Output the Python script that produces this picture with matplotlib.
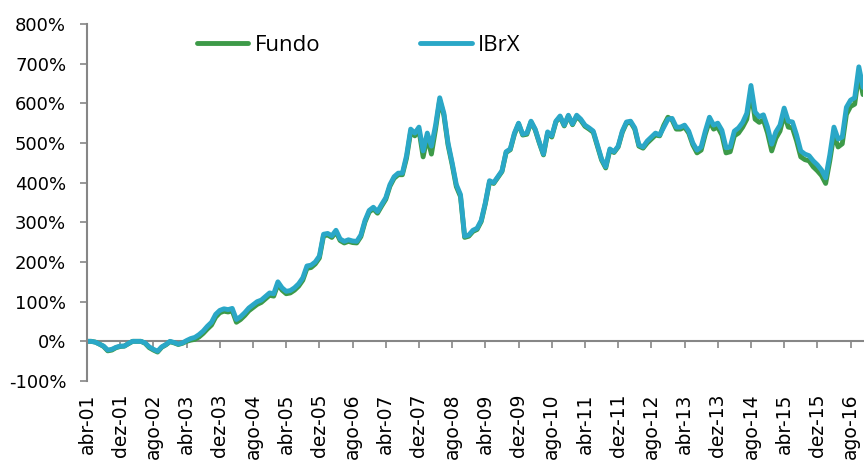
import matplotlib
matplotlib.use('Agg')
import matplotlib.pyplot as plt
import numpy as np
from matplotlib.ticker import FuncFormatter

plt.rcParams['font.family'] = 'DejaVu Sans'

# monthly accumulated return (%), abr-01 .. nov-16
ibrx = [0, 0, -2, -7, -12, -22, -20, -15, -12, -12,
        -5, 0, 0, 0, -4, -14, -20, -25, -14, -8,
        0, -3, -7, -4, 2, 7, 10, 17, 26, 38,
        48, 68, 78, 82, 80, 83, 55, 62, 72, 84,
        92, 100, 104, 113, 122, 120, 150, 135, 126, 128,
        135, 145, 160, 190, 192, 200, 215, 270, 272, 266,
        280, 258, 252, 256, 253, 252, 268, 305, 330, 338,
        327, 345, 362, 395, 415, 424, 424, 468, 535, 525,
        540, 480, 525, 492, 545, 614, 575, 500, 450, 395,
        370, 265, 268, 280, 285, 305, 350, 405, 400, 415,
        430, 478, 485, 525, 550, 522, 525, 555, 535, 502,
        472, 528, 518, 555, 568, 545, 570, 548, 570, 560,
        545, 538, 530, 495, 460, 440, 485, 478, 492, 530,
        553, 555, 538, 495, 490, 505, 515, 525, 520, 540,
        560, 562, 540, 540, 545, 530, 500, 482, 490, 530,
        565, 545, 550, 532, 488, 490, 530, 538, 552, 575,
        645, 578, 566, 571, 540, 497, 528, 545, 588, 555,
        553, 520, 480, 472, 468, 455, 445, 432, 412, 470,
        540, 510, 515, 590, 608, 614, 692, 640]

fundo = [0, 0, -2, -7, -13, -24, -22, -16, -13, -12,
         -6, 0, 0, 0, -5, -16, -22, -27, -15, -9,
         -1, -4, -8, -5, 0, 3, 5, 11, 20, 31,
         41, 61, 72, 76, 74, 77, 48, 55, 65, 77,
         85, 93, 98, 107, 116, 114, 144, 129, 120, 122,
         129, 139, 154, 184, 186, 195, 210, 266, 268, 262,
         276, 254, 248, 252, 249, 248, 264, 301, 326, 334,
         323, 341, 358, 391, 411, 420, 420, 462, 528, 518,
         532, 465, 515, 472, 535, 608, 570, 495, 445, 390,
         365, 262, 265, 277, 282, 302, 347, 402, 398, 413,
         428, 476, 483, 522, 548, 520, 522, 553, 533, 500,
         470, 525, 515, 553, 566, 543, 568, 546, 567, 557,
         542, 535, 527, 492, 457, 437, 482, 476, 490, 527,
         550, 552, 535, 492, 487, 500, 510, 520, 518, 545,
         565, 558, 535, 535, 540, 525, 495, 475, 482, 522,
         555, 535, 540, 520, 475, 478, 518, 525, 540, 560,
         630, 560, 552, 558, 525, 480, 512, 530, 572, 540,
         538, 505, 465, 458, 455, 440, 430, 418, 398, 455,
         522, 490, 498, 572, 592, 598, 674, 622]

tick_pos = list(range(0, 188, 8))
tick_labels = ['abr-01', 'dez-01', 'ago-02', 'abr-03', 'dez-03', 'ago-04',
               'abr-05', 'dez-05', 'ago-06', 'abr-07', 'dez-07', 'ago-08',
               'abr-09', 'dez-09', 'ago-10', 'abr-11', 'dez-11', 'ago-12',
               'abr-13', 'dez-13', 'ago-14', 'abr-15', 'dez-15', 'ago-16']

x = np.arange(len(ibrx))

fig = plt.figure(figsize=(8.64, 4.61), dpi=100)
ax = fig.add_axes([87 / 864, 1 - 381 / 461, 776 / 864, 357 / 461])

ax.plot(x, fundo, color='#3d9a48', lw=3.5, solid_capstyle='round', label='Fundo')
ax.plot(x, ibrx, color='#2aa7c7', lw=3.5, solid_capstyle='round', label='IBrX')

ax.set_ylim(-100, 800)
ax.set_xlim(0, len(ibrx) - 1)
ax.set_yticks(range(-100, 801, 100))
ax.yaxis.set_major_formatter(FuncFormatter(lambda v, p: f'{int(v)}%'))

for s in ['top', 'right', 'bottom']:
    ax.spines[s].set_visible(False)
ax.spines['left'].set_color('#868686')
ax.spines['left'].set_linewidth(1.5)
ax.tick_params(axis='y', direction='out', length=5, width=1.2, color='#868686',
               labelsize=13, pad=10)

ax.set_xticks(tick_pos)
ax.set_xticklabels(tick_labels, rotation=90, va='top', ha='center')
ax.tick_params(axis='x', length=0, labelsize=13.5, pad=9)

# horizontal axis line crossing at 0%
sec = ax.secondary_xaxis(1 / 9)
sec.set_xticks(tick_pos)
sec.set_xticklabels([])
sec.spines['bottom'].set_color('#868686')
sec.spines['bottom'].set_linewidth(1.5)
sec.tick_params(axis='x', direction='out', length=5, width=1.2, color='#868686')

ax.legend(loc='upper left', bbox_to_anchor=(197 / 864, 1 - 35 / 461),
          bbox_transform=fig.transFigure, ncol=2, frameon=False,
          handlelength=2.3, handletextpad=0.3, columnspacing=4.5,
          borderpad=0, borderaxespad=0,
          prop={'family': 'Open Sans', 'size': 16})

fig.savefig('out.png', dpi=100)
